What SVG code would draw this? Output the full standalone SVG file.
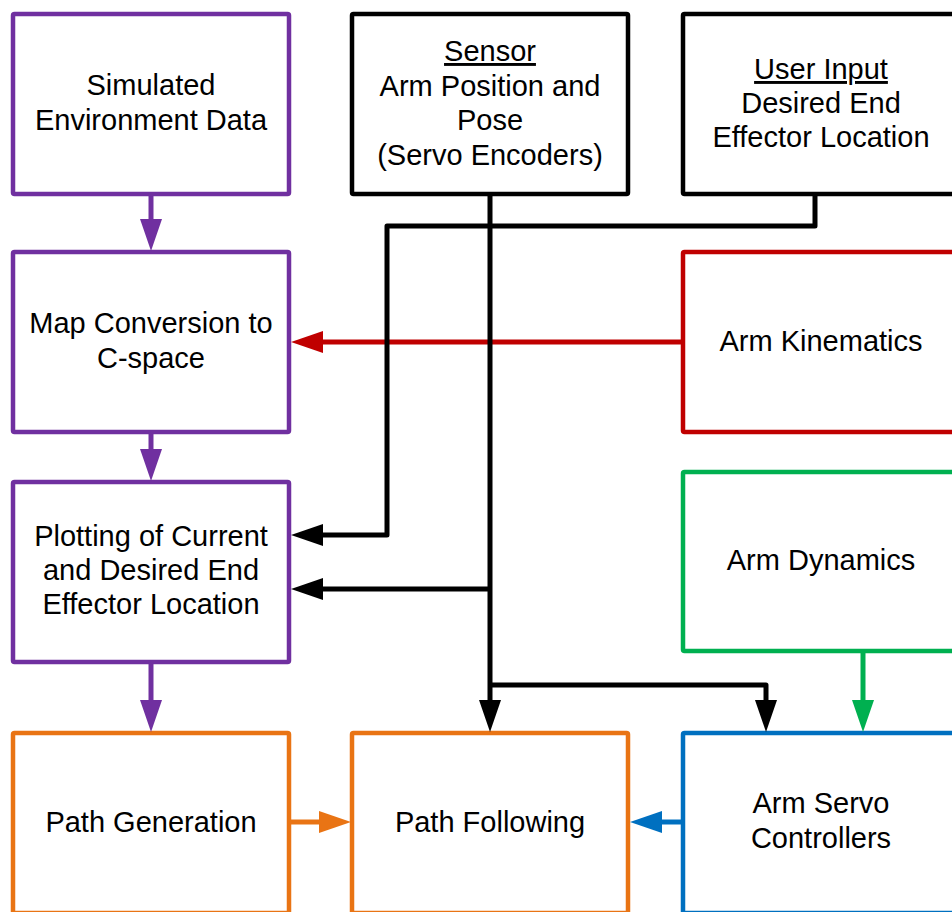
<svg xmlns="http://www.w3.org/2000/svg" width="952" height="912" viewBox="0 0 952 912">
<style>
  .box { fill: #ffffff; stroke-width: 4.5; stroke-linejoin: round; }
  .purple { stroke: #7030A0; }
  .black { stroke: #000000; }
  .red { stroke: #C00000; }
  .green { stroke: #00B050; }
  .orange { stroke: #E97414; }
  .blue { stroke: #0070C0; }
  text { font-family: "Liberation Sans", Arial, sans-serif; font-size: 29px; fill: #000; text-anchor: middle; }
  .conn path { fill: none; stroke-width: 5; stroke-linejoin: round; }
</style>
<defs>
  <marker id="mPurple" markerUnits="userSpaceOnUse" markerWidth="32" markerHeight="22" refX="0" refY="11" orient="auto" overflow="visible"><path d="M0,0 L32,11 L0,22 z" fill="#7030A0"/></marker>
  <marker id="mBlack" markerUnits="userSpaceOnUse" markerWidth="32" markerHeight="22" refX="0" refY="11" orient="auto" overflow="visible"><path d="M0,0 L32,11 L0,22 z" fill="#000000"/></marker>
  <marker id="mRed" markerUnits="userSpaceOnUse" markerWidth="32" markerHeight="22" refX="0" refY="11" orient="auto" overflow="visible"><path d="M0,0 L32,11 L0,22 z" fill="#C00000"/></marker>
  <marker id="mGreen" markerUnits="userSpaceOnUse" markerWidth="32" markerHeight="22" refX="0" refY="11" orient="auto" overflow="visible"><path d="M0,0 L32,11 L0,22 z" fill="#00B050"/></marker>
  <marker id="mOrange" markerUnits="userSpaceOnUse" markerWidth="32" markerHeight="22" refX="0" refY="11" orient="auto" overflow="visible"><path d="M0,0 L32,11 L0,22 z" fill="#E97414"/></marker>
  <marker id="mBlue" markerUnits="userSpaceOnUse" markerWidth="32" markerHeight="22" refX="0" refY="11" orient="auto" overflow="visible"><path d="M0,0 L32,11 L0,22 z" fill="#0070C0"/></marker>
</defs>
<rect width="952" height="912" fill="#ffffff"/>

<g id="simulated">
  <rect class="box purple" x="13" y="14" width="276" height="180" rx="1.5"/>
  <text x="151" y="95">Simulated</text>
  <text x="151" y="130">Environment Data</text>
</g>
<g id="sensor">
  <rect class="box black" x="352" y="14" width="276" height="180" rx="1.5"/>
  <text x="490" y="61"><tspan text-decoration="underline">Sensor</tspan></text>
  <text x="490" y="95.5">Arm Position and</text>
  <text x="490" y="130">Pose</text>
  <text x="490" y="164.5">(Servo Encoders)</text>
</g>
<g id="user-input">
  <rect class="box black" x="683" y="14" width="276" height="180" rx="1.5"/>
  <text x="821" y="79"><tspan text-decoration="underline">User Input</tspan></text>
  <text x="821" y="113">Desired End</text>
  <text x="821" y="147">Effector Location</text>
</g>
<g id="map-conversion">
  <rect class="box purple" x="13" y="252" width="276" height="180" rx="1.5"/>
  <text x="151" y="333">Map Conversion to</text>
  <text x="151" y="368">C-space</text>
</g>
<g id="arm-kinematics">
  <rect class="box red" x="683" y="252" width="276" height="180" rx="1.5"/>
  <text x="821" y="351">Arm Kinematics</text>
</g>
<g id="plotting">
  <rect class="box purple" x="13" y="482" width="276" height="180" rx="1.5"/>
  <text x="151" y="546">Plotting of Current</text>
  <text x="151" y="580">and Desired End</text>
  <text x="151" y="614">Effector Location</text>
</g>
<g id="arm-dynamics">
  <rect class="box green" x="683" y="472" width="276" height="179" rx="1.5"/>
  <text x="821" y="570">Arm Dynamics</text>
</g>
<g id="path-generation">
  <rect class="box orange" x="13" y="733" width="276" height="180" rx="1.5"/>
  <text x="151" y="832">Path Generation</text>
</g>
<g id="path-following">
  <rect class="box orange" x="352" y="733" width="276" height="180" rx="1.5"/>
  <text x="490" y="832">Path Following</text>
</g>
<g id="arm-servo">
  <rect class="box blue" x="683" y="733" width="276" height="180" rx="1.5"/>
  <text x="821" y="813">Arm Servo</text>
  <text x="821" y="848">Controllers</text>
</g>

<g id="connectors" class="conn">
  <path class="purple" d="M151,196 V219" marker-end="url(#mPurple)"/>
  <path class="purple" d="M151,434 V449" marker-end="url(#mPurple)"/>
  <path class="purple" d="M151,664 V700" marker-end="url(#mPurple)"/>
  <path class="red" d="M681,342 H323" marker-end="url(#mRed)"/>
  <path class="black" d="M815,196 V226 H387 V535 H323" marker-end="url(#mBlack)"/>
  <path class="black" d="M490,196 V700" marker-end="url(#mBlack)"/>
  <path class="black" d="M490,589 H323" marker-end="url(#mBlack)"/>
  <path class="black" d="M490,685 H766 V700" marker-end="url(#mBlack)"/>
  <path class="green" d="M863,653 V700" marker-end="url(#mGreen)"/>
  <path class="orange" d="M291,822 H319" marker-end="url(#mOrange)"/>
  <path class="blue" d="M681,822 H662" marker-end="url(#mBlue)"/>
</g>
</svg>
